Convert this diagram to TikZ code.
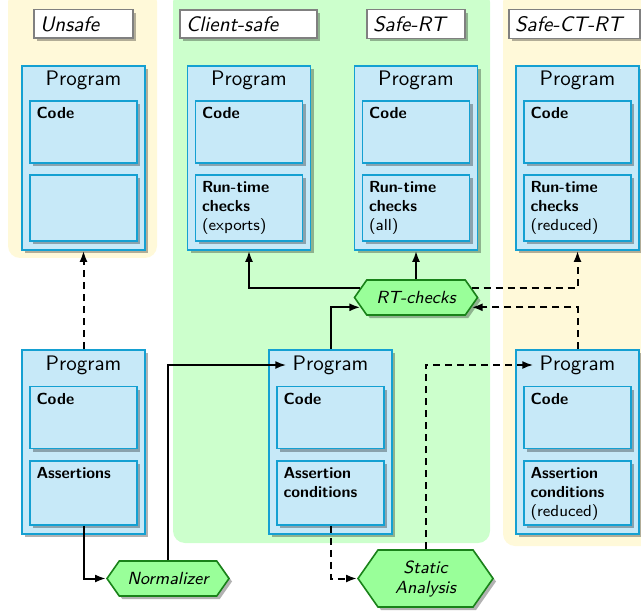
\documentclass[tikz,border=0pt]{standalone}
\usepackage{tikz}
\usetikzlibrary{positioning,arrows.meta,shapes.symbols,shadows}

\definecolor{unsafebg}{RGB}{255,249,217}
\definecolor{safebg}{RGB}{204,255,204}
\definecolor{progfill}{RGB}{199,233,248}
\definecolor{progline}{RGB}{20,160,210}
\definecolor{hexfill}{RGB}{153,255,153}
\definecolor{hexline}{RGB}{25,130,25}

\begin{document}
\begin{tikzpicture}[
  x=0.5pt, y=-0.5pt,
  font=\sffamily,
  boxshadow/.style={drop shadow={shadow xshift=1.5pt, shadow yshift=-1.5pt, fill=black, opacity=0.3}},
  region/.style={rounded corners=6pt},
  tag/.style={rectangle, draw=gray, fill=white, line width=0.8pt, boxshadow, minimum height=14pt,
              inner xsep=3pt, align=left, font=\sffamily\itshape\fontsize{10.5}{12}\selectfont},
  prog/.style={rectangle, draw=progline, fill=progfill, line width=0.9pt, boxshadow,
               minimum width=61.5pt, minimum height=92pt},
  ptitle/.style={inner sep=3pt, font=\sffamily\fontsize{10.5}{12}\selectfont},
  part/.style={rectangle, draw=progline, fill=progfill, line width=0.9pt, boxshadow,
               minimum width=53.5pt, minimum height=31pt},
  plabel/.style={anchor=north west, align=left, inner sep=3.5pt, font=\sffamily\footnotesize},
  hex/.style={signal, signal to=east and west, signal pointer angle=110, draw=hexline, fill=hexfill,
              line width=0.8pt, boxshadow, inner sep=1pt, align=center,
              font=\sffamily\itshape\fontsize{8.8}{10}\selectfont},
  arrow/.style={-{Latex[length=5.5pt,width=4pt]}, line width=1pt},
  dasharrow/.style={arrow, dash pattern=on 3.5pt off 2.5pt}
]
\useasboundingbox (0,0) rectangle (641,614);

% Regions
\fill[unsafebg, region] (8,-10) rectangle (157,258);
\fill[safebg, region] (173,-10) rectangle (490,543);
\fill[unsafebg, region] (503,-10) rectangle (660,546);

% Tags
\node[tag, text width=43.5pt] (tagU) at (83.5,24) {Unsafe};
\node[tag, text width=62.5pt] (tagC) at (248.5,24) {Client-safe};
\node[tag, text width=43pt] (tagR) at (416,24) {Safe-RT};
\node[tag, text width=59.5pt] (tagT) at (574.5,24) {Safe-CT-RT};

% Programs, top row
\node[prog] (progU) at (83.5,158) {};
\node[ptitle] (ttlU) at (83.5,80) {Program};
\node[part, label={[plabel]north west:\textbf{Code}}] (codeU) at (83.5,132) {};
\node[part, minimum height=33pt] (restU) at (83.5,208) {};

\node[prog] (progC) at (249,158) {};
\node[ptitle] (ttlC) at (249,80) {Program};
\node[part, label={[plabel]north west:\textbf{Code}}] (codeC) at (249,132) {};
\node[part, minimum height=33pt, label={[plabel]north west:{\textbf{Run-time}\\\textbf{checks}\\(exports)}}] (rtcC) at (249,208) {};

\node[prog] (progR) at (416,158) {};
\node[ptitle] (ttlR) at (416,80) {Program};
\node[part, label={[plabel]north west:\textbf{Code}}] (codeR) at (416,132) {};
\node[part, minimum height=33pt, label={[plabel]north west:{\textbf{Run-time}\\\textbf{checks}\\(all)}}] (rtcR) at (416,208) {};

\node[prog] (progT) at (577.5,158) {};
\node[ptitle] (ttlT) at (577.5,80) {Program};
\node[part, label={[plabel]north west:\textbf{Code}}] (codeT) at (577.5,132) {};
\node[part, minimum height=33pt, label={[plabel]north west:{\textbf{Run-time}\\\textbf{checks}\\(reduced)}}] (rtcT) at (577.5,208) {};

% Programs, bottom row
\node[prog] (progA) at (83.5,442) {};
\node[ptitle] (ttlA) at (83.5,365) {Program};
\node[part, label={[plabel]north west:\textbf{Code}}] (codeA) at (83.5,417.5) {};
\node[part, minimum height=32pt, label={[plabel]north west:\textbf{Assertions}}] (asrA) at (83.5,493) {};

\node[prog] (progM) at (330.5,442) {};
\node[ptitle] (ttlM) at (330.5,365) {Program};
\node[part, label={[plabel]north west:\textbf{Code}}] (codeM) at (330.5,417.5) {};
\node[part, minimum height=32pt, label={[plabel]north west:{\textbf{Assertion}\\\textbf{conditions}}}] (acM) at (330.5,493) {};

\node[prog] (progB) at (577.5,442) {};
\node[ptitle] (ttlB) at (577.5,365) {Program};
\node[part, label={[plabel]north west:\textbf{Code}}] (codeB) at (577.5,417.5) {};
\node[part, minimum height=32pt, label={[plabel]north west:{\textbf{Assertion}\\\textbf{conditions}\\(reduced)}}] (acB) at (577.5,493) {};

% Tools
\node[hex, minimum width=61.5pt, minimum height=17.5pt] (rt) at (416,297.5) {RT-checks};
\node[hex, minimum width=61pt, minimum height=17.5pt] (norm) at (168,578.5) {Normalizer};
\node[hex, minimum width=67.5pt, minimum height=28.5pt] (sa) at (425.5,578.5) {Static\\Analysis};

% Arrows
\draw[dasharrow] (progA.north) -- (progU.south);
\draw[arrow] (asrA.south) |- (norm.west);
\draw[arrow] (norm.north) |- (ttlM.west);
\draw[arrow] (progM.north) |- (rt.190);
\draw[arrow] (rt.170) -| (progC.south);
\draw[arrow] (rt.north) -- (progR.south);
\draw[dasharrow] (rt.10) -| (progT.south);
\draw[dasharrow] (progB.north) |- (rt.350);
\draw[dasharrow] (acM.south) |- (sa.west);
\draw[dasharrow] (sa.north) |- (ttlB.west);
\end{tikzpicture}
\end{document}
